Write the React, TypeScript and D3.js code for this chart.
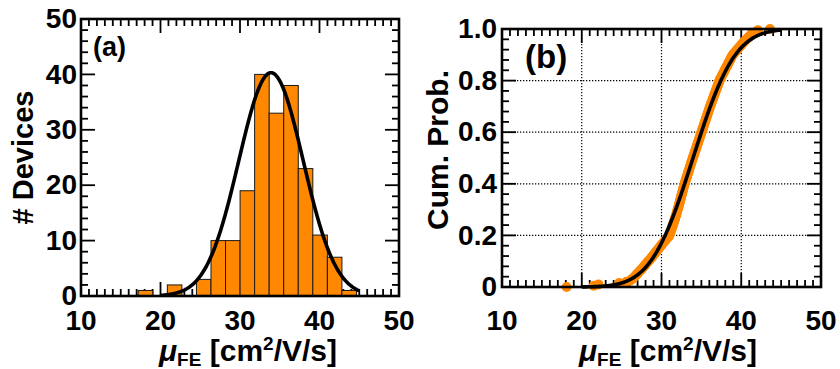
import React from 'react';
import * as d3 from 'd3';

// ---------- DATA ----------
const histBinStart = 17.2;
const histBinWidth = 1.83;
const histCounts = [1, 0, 2, 0, 3, 10, 10, 19, 40, 33, 38, 23, 11, 7, 1];

const xTickValues = [10, 20, 30, 40, 50];
const histYTickValues = [0, 10, 20, 30, 40, 50];
const cdfYTickValues = [0, 0.2, 0.4, 0.6, 0.8, 1.0];
const cdfYTickLabels = ['0', '0.2', '0.4', '0.6', '0.8', '1.0'];

// sorted device mobilities (cm^2/V/s)
const mobility = [
  18.1, 21.5, 22.1, 24.7, 25.6, 26.1,
  26.3, 26.5, 26.65, 26.8, 26.95,
  27.1, 27.25, 27.42, 27.55, 27.7, 27.86, 27.98, 28.1, 28.25, 28.4,
  28.55, 28.68, 28.82, 28.95, 29.08, 29.2, 29.34, 29.47, 29.6, 29.73,
  29.86, 29.99, 30.12, 30.26, 30.39, 30.52, 30.66, 30.8, 30.95,
  31.02, 31.08, 31.13, 31.19, 31.24, 31.3, 31.35, 31.41, 31.46, 31.52,
  31.57, 31.63, 31.68, 31.73, 31.78, 31.83, 31.88, 31.93, 31.97, 32.02,
  32.07, 32.11, 32.16, 32.2, 32.25, 32.29, 32.33, 32.38, 32.42, 32.46,
  32.51, 32.55, 32.6, 32.64, 32.68, 32.72, 32.77, 32.81, 32.86, 32.9,
  32.95, 33.0, 33.06, 33.11, 33.16, 33.22, 33.27, 33.32, 33.37, 33.43,
  33.48, 33.53, 33.58, 33.64, 33.69, 33.74, 33.79, 33.85, 33.9,
  33.96, 34.01, 34.07, 34.12, 34.18, 34.23, 34.29, 34.34, 34.4, 34.45,
  34.51, 34.56, 34.62, 34.67, 34.73, 34.78, 34.84, 34.89, 34.95, 35.0,
  35.06, 35.11, 35.17, 35.22, 35.28, 35.33, 35.39, 35.44, 35.5, 35.55,
  35.61, 35.66, 35.72, 35.77, 35.83, 35.88, 35.94, 35.99, 36.05, 36.1,
  36.16, 36.22, 36.28, 36.34, 36.4, 36.46, 36.52, 36.58, 36.64, 36.7,
  36.76, 36.82, 36.88, 36.94, 37.0, 37.06, 37.12, 37.18, 37.24, 37.3,
  37.38, 37.47, 37.55, 37.64, 37.72, 37.81, 37.89, 37.97, 38.06, 38.14,
  38.23, 38.31, 38.4, 38.48, 38.56, 38.65, 38.73, 38.82, 38.9,
  39.04, 39.18, 39.32, 39.46, 39.6, 39.74, 39.88, 40.02, 40.16, 40.3,
  40.47, 40.63, 40.8, 40.97, 41.13, 41.3,
  41.6, 41.85, 42.1, 43.6,
];

// Gaussian fit (histogram) and normal CDF fit parameters
const histFitMean = 33.9;
const histFitSigma = 4.05;
const histFitAmp = 40.3;
const cdfFitMean = 33.95;
const cdfFitSigma = 4.15;
const fitRange = [20, 45];

// ---------- STYLE ----------
const ORANGE = '#FF8800';
const FONT = '"Liberation Sans", Arial, Helvetica, sans-serif';

function erf(x: number) {
  const s = x < 0 ? -1 : 1;
  x = Math.abs(x);
  const t = 1 / (1 + 0.3275911 * x);
  const y =
    1 -
    ((((1.061405429 * t - 1.453152027) * t + 1.421413741) * t - 0.284496736) * t + 0.254829592) *
      t *
      Math.exp(-x * x);
  return s * y;
}

type Frame = { x0: number; x1: number; y0: number; y1: number };

function Ticks({ f, xs, ys, xMinor, yMinor, xMajor, yMajor }: any) {
  const items: any[] = [];
  const minL = 7;
  const majL = 14;
  xMinor.forEach((v: number, i: number) => {
    const x = xs(v);
    const L = xMajor.includes(v) ? majL : minL;
    items.push(<line key={'xb' + i} x1={x} x2={x} y1={f.y1} y2={f.y1 - L} />);
    items.push(<line key={'xt' + i} x1={x} x2={x} y1={f.y0} y2={f.y0 + L} />);
  });
  yMinor.forEach((v: number, i: number) => {
    const y = ys(v);
    const L = yMajor.some((m: number) => Math.abs(m - v) < 1e-6) ? majL : minL;
    items.push(<line key={'yl' + i} x1={f.x0} x2={f.x0 + L} y1={y} y2={y} />);
    items.push(<line key={'yr' + i} x1={f.x1} x2={f.x1 - L} y1={y} y2={y} />);
  });
  return (
    <g stroke="#000" strokeWidth={1.8}>
      {items}
    </g>
  );
}

function XTitle({ cx, y }: { cx: number; y: number }) {
  return (
    <text x={cx} y={y} textAnchor="middle" fontFamily={FONT} fontWeight="bold" fontSize={30}>
      <tspan fontStyle="italic">μ</tspan>
      <tspan fontSize={19} dy={5}>FE</tspan>
      <tspan dy={-5}> [cm</tspan>
      <tspan fontSize={19} dy={-11}>2</tspan>
      <tspan dy={11}>/V/s]</tspan>
    </text>
  );
}

export default function App() {
  const W = 840;
  const H = 369;

  // ---- left panel ----
  const fa: Frame = { x0: 81, x1: 399, y0: 19, y1: 296 };
  const xa = d3.scaleLinear().domain([10, 50]).range([fa.x0, fa.x1]);
  const ya = d3.scaleLinear().domain([0, 50]).range([fa.y1, fa.y0]);

  const gaussPts = d3.range(fitRange[0], fitRange[1] + 0.001, 0.1).map((x) => [
    x,
    histFitAmp * Math.exp(-((x - histFitMean) ** 2) / (2 * histFitSigma ** 2)),
  ]);
  const gaussLine = d3
    .line<number[]>()
    .x((d) => xa(d[0]))
    .y((d) => ya(d[1]));

  // ---- right panel ----
  const fb: Frame = { x0: 502, x1: 821, y0: 29, y1: 287 };
  const xb = d3.scaleLinear().domain([10, 50]).range([fb.x0, fb.x1]);
  const yb = d3.scaleLinear().domain([0, 1]).range([fb.y1, fb.y0]);
  const n = mobility.length;
  const cdfPts = mobility.map((v, i) => [v, i / (n - 1)]);
  const fitPts = d3.range(fitRange[0], fitRange[1] + 0.001, 0.1).map((x) => [
    x,
    0.5 * (1 + erf((x - cdfFitMean) / (cdfFitSigma * Math.SQRT2))),
  ]);
  const cdfLine = d3
    .line<number[]>()
    .x((d) => xb(d[0]))
    .y((d) => yb(d[1]));

  const xMinor = d3.range(10, 50.001, 1);
  const yMinorA = d3.range(0, 50.001, 2);
  const yMinorB = d3.range(0, 25.001, 1).map((k) => k * 0.04);

  const tickFont = { fontFamily: FONT, fontWeight: 'bold' as const, fontSize: 28 };

  return (
    <svg
      width={W}
      height={H}
      style={{ position: 'absolute', left: 0, top: 0, background: '#fff' }}
    >
      <rect x={0} y={0} width={W} height={H} fill="#fff" />

      {/* ===== Panel (a) ===== */}
      <Ticks
        f={fa}
        xs={xa}
        ys={ya}
        xMinor={xMinor}
        yMinor={yMinorA}
        xMajor={xTickValues}
        yMajor={histYTickValues}
      />
      {histCounts.map((c, i) =>
        c > 0 ? (
          <rect
            key={i}
            x={xa(histBinStart + i * histBinWidth)}
            width={xa(histBinStart + (i + 1) * histBinWidth) - xa(histBinStart + i * histBinWidth)}
            y={ya(c)}
            height={ya(0) - ya(c)}
            fill={ORANGE}
            stroke="#1a1a1a"
            strokeWidth={1}
          />
        ) : null
      )}
      <path d={gaussLine(gaussPts as any) || ''} fill="none" stroke="#000" strokeWidth={3.6} />
      <rect
        x={fa.x0}
        y={fa.y0}
        width={fa.x1 - fa.x0}
        height={fa.y1 - fa.y0}
        fill="none"
        stroke="#000"
        strokeWidth={2.6}
      />
      {xTickValues.map((v) => (
        <text key={'ax' + v} x={xa(v)} y={330} textAnchor="middle" {...tickFont}>
          {v}
        </text>
      ))}
      {histYTickValues.map((v) => (
        <text key={'ay' + v} x={77} y={ya(v)} dy="0.33em" textAnchor="end" {...tickFont}>
          {v}
        </text>
      ))}
      <text x={93} y={56} fontFamily={FONT} fontWeight="bold" fontSize={27}>
        (a)
      </text>
      <text
        transform={`translate(23,${(fa.y0 + fa.y1) / 2}) rotate(-90)`}
        textAnchor="middle"
        dy="0.35em"
        fontFamily={FONT}
        fontWeight="bold"
        fontSize={29}
      >
        # Devices
      </text>
      <XTitle cx={248} y={361} />

      {/* ===== Panel (b) ===== */}
      <g stroke="#000" strokeWidth={1.2} strokeDasharray="1.3 1.7">
        {[20, 30, 40].map((v) => (
          <line key={'gx' + v} x1={xb(v)} x2={xb(v)} y1={fb.y0} y2={fb.y1} />
        ))}
        {[0.2, 0.4, 0.6, 0.8].map((v) => (
          <line key={'gy' + v} x1={fb.x0} x2={fb.x1} y1={yb(v)} y2={yb(v)} />
        ))}
      </g>
      <Ticks
        f={fb}
        xs={xb}
        ys={yb}
        xMinor={xMinor}
        yMinor={yMinorB}
        xMajor={xTickValues}
        yMajor={cdfYTickValues}
      />
      {cdfPts.map((d, i) => (
        <circle key={i} cx={xb(d[0])} cy={yb(d[1])} r={5} fill={ORANGE} />
      ))}
      <path d={cdfLine(fitPts as any) || ''} fill="none" stroke="#000" strokeWidth={3.6} />
      <rect
        x={fb.x0}
        y={fb.y0}
        width={fb.x1 - fb.x0}
        height={fb.y1 - fb.y0}
        fill="none"
        stroke="#000"
        strokeWidth={2.6}
      />
      {xTickValues.map((v) => (
        <text key={'bx' + v} x={xb(v)} y={330} textAnchor="middle" {...tickFont}>
          {v}
        </text>
      ))}
      {cdfYTickValues.map((v, i) => (
        <text key={'by' + v} x={497} y={yb(v)} dy="0.33em" textAnchor="end" {...tickFont}>
          {cdfYTickLabels[i]}
        </text>
      ))}
      <text x={525} y={68} fontFamily={FONT} fontWeight="bold" fontSize={33}>
        (b)
      </text>
      <text
        transform={`translate(437,${(fb.y0 + fb.y1) / 2 - 8}) rotate(-90)`}
        textAnchor="middle"
        dy="0.35em"
        fontFamily={FONT}
        fontWeight="bold"
        fontSize={30}
      >
        Cum. Prob.
      </text>
      <XTitle cx={668} y={361} />
    </svg>
  );
}
